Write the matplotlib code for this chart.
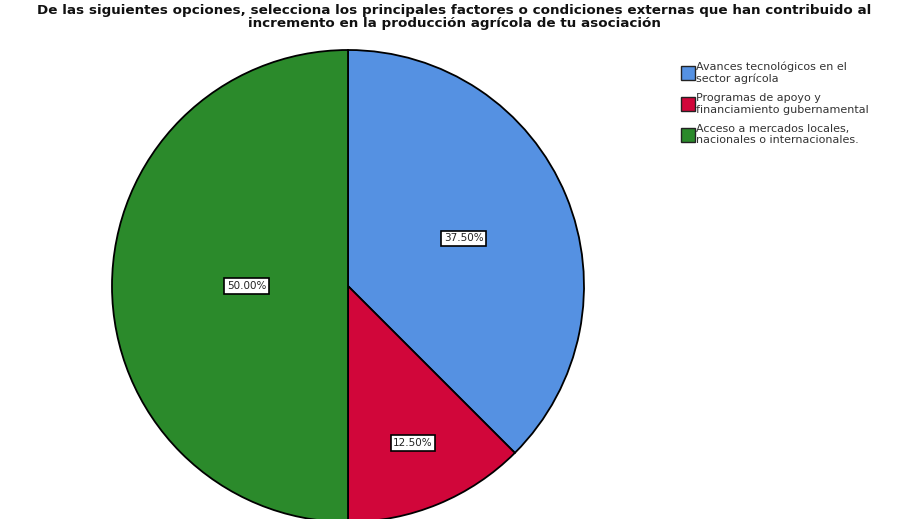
import numpy as np
import matplotlib.pyplot as plt
from matplotlib.lines import Line2D

title = ("De las siguientes opciones, selecciona los principales factores o condiciones externas que han contribuido al\n"
         "incremento en la producción agrícola de tu asociación")
categories = ["Avances tecnológicos en el\nsector agrícola",
              "Programas de apoyo y\nfinanciamiento gubernamental",
              "Acceso a mercados locales,\nnacionales o internacionales."]
shares = [37.5, 12.5, 50.0]
colors = ["#5591e2", "#d1063a", "#2b8a2b"]
# how far from the centre each percentage box sits (fraction of radius)
label_dist = [0.53, 0.72, 0.43]

fig = plt.figure(figsize=(9.08, 5.19), dpi=100)
fig.patch.set_facecolor("white")

W, H = 908, 519
cx, cy, r = 348, 286, 236
ax = fig.add_axes([(cx - r) / W, (H - cy - r) / H, 2 * r / W, 2 * r / H])
wedges, _ = ax.pie(shares, colors=colors, startangle=90, counterclock=False,
                   wedgeprops=dict(edgecolor="black", linewidth=1.3))
ax.set_xlim(-1, 1)
ax.set_ylim(-1, 1)
ax.set_aspect("auto")
ax.axis("off")

for w, val, d in zip(wedges, shares, label_dist):
    mid = np.deg2rad((w.theta1 + w.theta2) / 2)
    ax.text(d * np.cos(mid), d * np.sin(mid), f"{val:.2f}%", ha="center", va="center",
            fontsize=7.5, color="#222222",
            bbox=dict(boxstyle="square,pad=0.25", facecolor="white", edgecolor="black", linewidth=1.2))

fig.text(0.5, 1 - 4 / H, title, ha="center", va="top", fontsize=9.7, fontweight="bold",
         linespacing=0.95, color="#111111")

handles = [Line2D([], [], linestyle="none", marker="s", markersize=9.5,
                  markerfacecolor=c, markeredgecolor="#222222", markeredgewidth=1.0)
           for c in colors]
fig.legend(handles, categories, loc="upper left", bbox_to_anchor=(677 / W, 1 - 56 / H),
           frameon=False, fontsize=8, handlelength=0.9, handletextpad=0.35,
           labelspacing=0.8, borderpad=0, labelcolor="#333333")

fig.savefig("out.png", dpi=100, facecolor="white")
